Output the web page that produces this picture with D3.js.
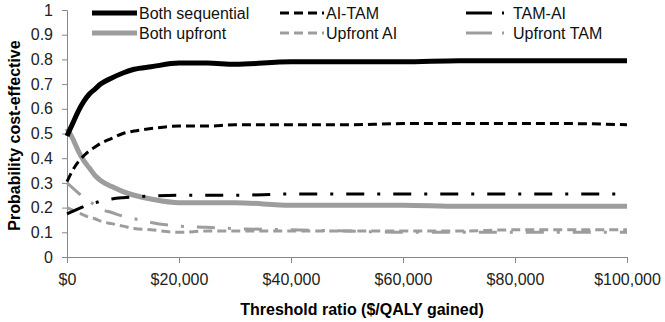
<!DOCTYPE html>
<html>
<head>
<meta charset="utf-8">
<script src="https://cdn.jsdelivr.net/npm/d3@7"></script>
<style>
  body { margin: 0; background: #fff; }
  svg { font-family: 'Liberation Sans', Arial, sans-serif; }
</style>
</head>
<body>
<svg id="chart"></svg>
<script>
// Threshold values ($/QALY)
const thresholds = [0, 1000, 2000, 3000, 4000, 5000, 6000, 8000, 10000, 12000, 15000,
  20000, 25000, 30000, 40000, 50000, 60000, 70000, 80000, 90000, 100000]

// Probability cost-effective per strategy
const bothSequential = [0.49, 0.54, 0.59, 0.63, 0.66, 0.68, 0.70, 0.725, 0.745, 0.76, 0.77,
  0.785, 0.785, 0.78, 0.79, 0.79, 0.79, 0.795, 0.795, 0.795, 0.795]
const aiTam = [0.305, 0.35, 0.385, 0.41, 0.43, 0.445, 0.46, 0.48, 0.50, 0.51, 0.52,
  0.53, 0.53, 0.535, 0.535, 0.535, 0.54, 0.54, 0.54, 0.54, 0.535]
const tamAi = [0.175, 0.185, 0.195, 0.205, 0.215, 0.22, 0.225, 0.235, 0.24, 0.243, 0.247,
  0.25, 0.25, 0.25, 0.255, 0.255, 0.255, 0.255, 0.255, 0.255, 0.255]
const bothUpfront = [0.52, 0.48, 0.43, 0.39, 0.36, 0.33, 0.31, 0.285, 0.265, 0.25, 0.235,
  0.22, 0.22, 0.22, 0.21, 0.21, 0.21, 0.205, 0.205, 0.205, 0.205]
const upfrontAi = [0.20, 0.19, 0.18, 0.17, 0.16, 0.155, 0.145, 0.135, 0.125, 0.115, 0.11,
  0.10, 0.105, 0.105, 0.105, 0.105, 0.105, 0.105, 0.11, 0.11, 0.11]
const upfrontTam = [0.30, 0.28, 0.26, 0.24, 0.225, 0.21, 0.195, 0.18, 0.165, 0.155, 0.14,
  0.125, 0.12, 0.115, 0.11, 0.105, 0.10, 0.10, 0.10, 0.10, 0.10]

const xTicks = [0, 20000, 40000, 60000, 80000, 100000]
const yTicks = [0, 0.1, 0.2, 0.3, 0.4, 0.5, 0.6, 0.7, 0.8, 0.9, 1]

const svgWidth = 665
const svgHeight = 322
const margin = { top: 10, right: 38, bottom: 65, left: 67 }
const width = svgWidth - margin.left - margin.right
const height = svgHeight - margin.top - margin.bottom

const grey = '#9d9d9d'
const series = [
  { name: 'Both sequential', values: bothSequential, color: '#000', w: 5, dash: null },
  { name: 'AI-TAM', values: aiTam, color: '#000', w: 3, dash: '9,5' },
  { name: 'TAM-AI', values: tamAi, color: '#000', w: 3, dash: '18,13,3,13' },
  { name: 'Both upfront', values: bothUpfront, color: grey, w: 5, dash: null },
  { name: 'Upfront AI', values: upfrontAi, color: grey, w: 3, dash: '9,5' },
  { name: 'Upfront TAM', values: upfrontTam, color: grey, w: 3, dash: '18,13,3,13' }
]

const svg = d3.select('#chart')
  .attr('width', svgWidth)
  .attr('height', svgHeight)

const g = svg.append('g')
  .attr('transform', `translate(${margin.left},${margin.top})`)

const x = d3.scaleLinear().domain([0, 100000]).range([0, width])
const y = d3.scaleLinear().domain([0, 1]).range([height, 0])

// Axes
const xAxis = g.append('g')
  .attr('transform', `translate(0,${height})`)
  .call(d3.axisBottom(x).tickValues(xTicks).tickSize(6).tickPadding(11)
    .tickFormat(d => '$' + d3.format(',')(d)))
const yAxis = g.append('g')
  .call(d3.axisLeft(y).tickValues(yTicks).tickSize(5).tickPadding(9)
    .tickFormat(d => d3.format('')(+d.toFixed(1))))

for (const ax of [xAxis, yAxis]) {
  ax.select('.domain').attr('stroke', '#888').attr('stroke-width', 1)
  ax.selectAll('.tick line').attr('stroke', '#888')
  ax.selectAll('.tick text')
    .attr('fill', '#222')
    .style('font-size', '16px')
    .style('font-family', "'Liberation Sans', Arial, sans-serif")
}

// Lines
const line = d3.line()
  .x((d, i) => x(thresholds[i]))
  .y(d => y(d))
  .curve(d3.curveMonotoneX)

// draw grey first so black lines sit on top
const drawOrder = [3, 4, 5, 0, 1, 2]
g.selectAll('.series')
  .data(drawOrder.map(i => series[i]))
  .enter()
  .append('path')
  .attr('class', 'series')
  .attr('fill', 'none')
  .attr('stroke', d => d.color)
  .attr('stroke-width', d => d.w)
  .attr('stroke-dasharray', d => d.dash)
  .attr('d', d => line(d.values))

// Legend
const legendCols = [92, 280, 466]
const legendRows = [13, 33]
const legendLen = [45, 44, 38]
const legend = svg.append('g')
series.forEach((s, i) => {
  const col = i % 3
  const row = Math.floor(i / 3)
  const lx = legendCols[col]
  const ly = legendRows[row]
  legend.append('line')
    .attr('x1', lx).attr('x2', lx + legendLen[col])
    .attr('y1', ly).attr('y2', ly)
    .attr('stroke', s.color)
    .attr('stroke-width', s.w)
    .attr('stroke-dasharray', s.dash === '18,13,3,13' ? '26,10,2,20' : s.dash)
  legend.append('text')
    .attr('x', lx + legendLen[col] + (col === 2 ? 9 : 2))
    .attr('y', ly)
    .attr('dy', '0.35em')
    .style('font-size', '16px')
    .attr('fill', '#111')
    .text(s.name)
})

// Axis titles
svg.append('text')
  .attr('x', 362)
  .attr('y', 315)
  .attr('text-anchor', 'middle')
  .style('font-size', '16px')
  .style('font-weight', 'bold')
  .text('Threshold ratio ($/QALY gained)')

svg.append('text')
  .attr('transform', `translate(20,${margin.top + height / 2 + 2}) rotate(-90)`)
  .attr('text-anchor', 'middle')
  .style('font-size', '16px')
  .style('font-weight', 'bold')
  .text('Probability cost-effective')
</script>
</body>
</html>
